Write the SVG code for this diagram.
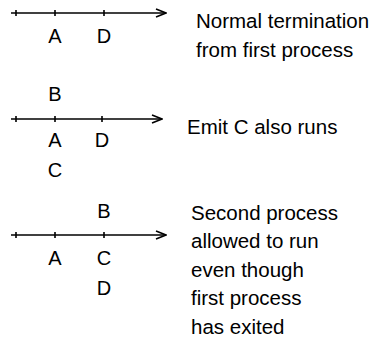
<svg xmlns="http://www.w3.org/2000/svg" width="379" height="339" viewBox="0 0 379 339">
<defs>
<style>
.t{font-family:"Liberation Sans",Arial,sans-serif;font-size:20.5px;fill:#000}
.l{font-family:"Liberation Sans",Arial,sans-serif;font-size:20px;fill:#000;text-anchor:middle}
.ln{stroke:#000;stroke-width:1.6;fill:none}
</style>
<marker id="ah" markerWidth="12" markerHeight="10" refX="11" refY="5" orient="auto" markerUnits="userSpaceOnUse">
<path d="M1,1 L11,5 L1,9" fill="none" stroke="#000" stroke-width="1.6"/>
</marker>
</defs>
<rect width="379" height="339" fill="#fff"/>
<g id="connectors">
<path class="ln" d="M11,13 H166" marker-end="url(#ah)"/>
<path class="ln" d="M16,10 V16 M55,10 V16 M104,10 V16"/>
<path class="ln" d="M11,119 H162" marker-end="url(#ah)"/>
<path class="ln" d="M16,116 V122 M55,116 V122 M102,116 V122"/>
<path class="ln" d="M11,235 H166" marker-end="url(#ah)"/>
<path class="ln" d="M16,232 V238 M55,232 V238 M104,232 V238"/>
</g>
<g id="timeline1">
<text class="l" x="55" y="43">A</text>
<text class="l" x="104" y="43">D</text>
<text class="t" x="196" y="28">Normal termination</text>
<text class="t" x="196" y="57">from first process</text>
</g>
<g id="timeline2">
<text class="l" x="55" y="101">B</text>
<text class="l" x="55" y="147">A</text>
<text class="l" x="102" y="147">D</text>
<text class="l" x="55" y="177">C</text>
<text class="t" x="187" y="134">Emit C also runs</text>
</g>
<g id="timeline3">
<text class="l" x="104" y="218">B</text>
<text class="l" x="55" y="265">A</text>
<text class="l" x="104" y="265">C</text>
<text class="l" x="104" y="295">D</text>
<text class="t" x="191" y="219.5">Second process</text>
<text class="t" x="191" y="248">allowed to run</text>
<text class="t" x="191" y="276.5">even though</text>
<text class="t" x="191" y="305">first process</text>
<text class="t" x="191" y="333.5">has exited</text>
</g>
</svg>
